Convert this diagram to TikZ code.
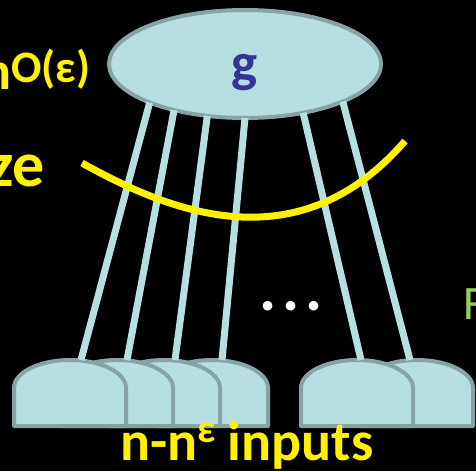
\documentclass[tikz,border=0pt]{standalone}
\usepackage{fontspec}
\setmainfont{Carlito}
\usepackage{xcolor}
\usepackage{tikz}
\usetikzlibrary{shapes.geometric}
\definecolor{wirecyan}{HTML}{B7DEE1}
\definecolor{gateedge}{HTML}{87A3A6}
\definecolor{gblue}{HTML}{333399}
\definecolor{fgreen}{HTML}{92D050}

\begin{document}
\begin{tikzpicture}[x=1pt, y=-1pt, font=\bfseries]
  % ------- styles -------
  \tikzstyle{fnbox}=[ellipse, draw=gateedge, line width=4pt, fill=wirecyan, minimum width=272pt, minimum height=108pt, inner sep=0pt, outer sep=0pt, text=gblue, text height=34pt, text depth=0pt, font=\fontsize{55}{60}\selectfont\bfseries]
  \tikzstyle{gatebox}=[draw=gateedge, line width=4pt, fill=wirecyan, line join=round]
  \tikzstyle{wire}=[draw=wirecyan, line width=7pt]
  \tikzstyle{cut}=[draw=yellow, line width=7pt]
  \tikzstyle{ytext}=[text=yellow, inner sep=0pt]

  \useasboundingbox (0,0) rectangle (476,471);
  \clip (0,0) rectangle (476,471);
  \fill[black] (0,0) rectangle (476,471);

  % ------- nodes -------
  \node[fnbox] (g) at (245,64) {g};

  % gates, back to front
  \foreach \x in {361,301,156,108,61,14}
    \draw[gatebox] (\x,426) -- (\x,388) arc[start angle=180, end angle=360, x radius=56, y radius=28] -- (\x+112,426) -- cycle;

  \foreach \i/\x in {1/81,2/127,3/175,4/222,5/361,6/410}
    \coordinate (in\i) at (\x,360);

  % labels
  \node[ytext, anchor=base west, font=\fontsize{54}{58}\selectfont\bfseries] (depth) at (-18,89) {n\raisebox{7pt}{\fontsize{45}{48}\selectfont O(ε)}};
  \node[ytext, anchor=base east, font=\fontsize{64}{66}\selectfont\bfseries] (size) at (45,186) {ze};
  \node[text=white, inner sep=0pt, anchor=base, font=\fontsize{64}{66}\selectfont\bfseries] (dots) at (291,310) {.\hspace{6pt}.\hspace{6pt}.};
  \node[text=fgreen, inner sep=0pt, anchor=base west, font=\fontsize{48}{50}\selectfont\mdseries] (F) at (463,319) {F};
  \node[ytext, anchor=base, font=\fontsize{56}{60}\selectfont\bfseries] (inputs) at (247,460) {n-n\raisebox{18pt}{\fontsize{40}{42}\selectfont ε}\hspace{12pt}inputs};

  % ------- wires -------
  \foreach \i/\a in {1/202,2/213,3/234,4/270,5/320,6/339}
    \draw[wire] (in\i) -- (g.\a);

  % the cut
  \coordinate (cutL) at (82,163);
  \coordinate (cutR) at (405,141);
  \draw[cut] (cutL) .. controls (175,215) and (300,262) .. (cutR);

\end{tikzpicture}
\end{document}
